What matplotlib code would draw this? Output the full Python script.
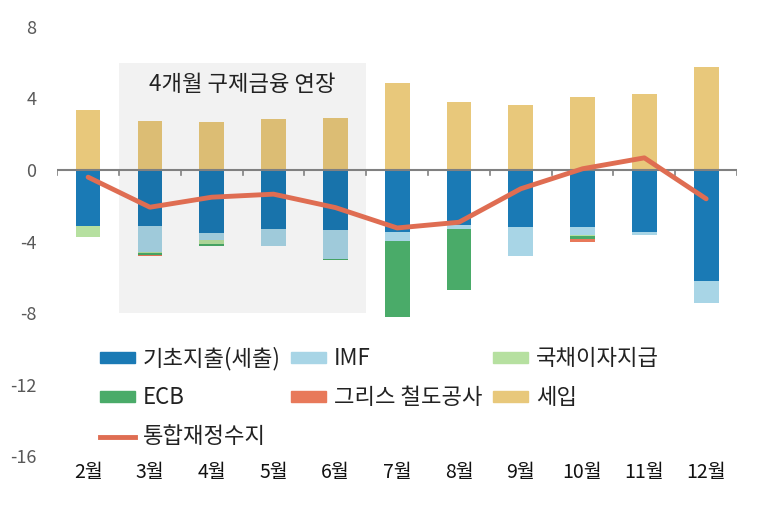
import numpy as np
import matplotlib.pyplot as plt
from matplotlib.patches import Rectangle, Patch
from matplotlib.lines import Line2D

plt.rcParams['font.family'] = ['Noto Sans CJK KR', 'DejaVu Sans']
plt.rcParams['axes.unicode_minus'] = False

months = ['2월', '3월', '4월', '5월', '6월', '7월', '8월', '9월', '10월', '11월', '12월']

# 세입 (positive)
revenue = [3.33, 2.73, 2.69, 2.84, 2.90, 4.88, 3.81, 3.65, 4.06, 4.26, 5.75]
# negative components, stacked downward
primary = [-3.14, -3.14, -3.53, -3.29, -3.38, -3.48, -3.10, -3.20, -3.20, -3.44, -6.22]
imf = [0.00, -1.46, -0.37, -0.95, -1.59, -0.50, -0.19, -1.58, -0.45, -0.17, -1.21]
interest = [-0.58, -0.06, -0.23, 0.00, 0.00, 0.00, 0.00, 0.00, -0.04, 0.00, 0.00]
ecb = [0.00, -0.08, -0.11, 0.00, -0.07, -4.22, -3.41, 0.00, -0.15, 0.00, 0.00]
rail = [0.00, -0.09, 0.00, 0.00, 0.00, 0.00, 0.00, 0.00, -0.16, 0.00, 0.00]
# 통합재정수지
balance = [-0.40, -2.08, -1.52, -1.35, -2.10, -3.24, -2.92, -1.05, 0.07, 0.68, -1.61]

c_primary = '#1a7ab5'
c_imf = '#a8d5e6'
c_interest = '#b6e0a0'
c_ecb = '#4aab69'
c_rail = '#e8795a'
c_rev = '#e8c87b'
c_line = '#df6d52'

fig = plt.figure(figsize=(7.63, 5.08), dpi=100)
ax = fig.add_axes([0.075, 0.102, 0.891, 0.845])

x = np.arange(len(months))
w = 0.4

ax.bar(x, revenue, w, color=c_rev, zorder=2)
bottom = np.zeros(len(months))
for vals, col in [(primary, c_primary), (imf, c_imf), (interest, c_interest),
                  (ecb, c_ecb), (rail, c_rail)]:
    v = np.array(vals)
    ax.bar(x, v, w, bottom=bottom, color=col, zorder=2)
    bottom = bottom + v

# shaded period
ax.add_patch(Rectangle((0.5, -8), 4, 14, facecolor='#000000', alpha=0.05,
                       edgecolor='none', zorder=3))
ax.text(2.5, 4.8, '4개월 구제금융 연장', ha='center', va='center', fontsize=16,
        color='#222222', zorder=5)

# zero line with ticks at category boundaries
ax.axhline(0, color='#808080', lw=1.5, zorder=4)
for b in np.arange(-0.5, len(months), 1):
    ax.plot([b, b], [0, -0.28], color='#808080', lw=1.2, zorder=4)

ax.plot(x, balance, color=c_line, lw=3.5, solid_joinstyle='round',
        solid_capstyle='round', zorder=6)

ax.set_xlim(-0.5, 10.5)
ax.set_ylim(-16, 8)
ax.set_yticks([8, 4, 0, -4, -8, -12, -16])
ax.set_xticks(x)
ax.set_xticklabels(months, fontsize=14, color='#111111')
ax.tick_params(axis='y', labelsize=13, labelcolor='#595959', length=0, pad=15)
ax.tick_params(axis='x', length=0, pad=4)
for s in ax.spines.values():
    s.set_visible(False)

handles = [
    Patch(color=c_primary, label='기초지출(세출)'),
    Patch(color=c_ecb, label='ECB'),
    Line2D([], [], color=c_line, lw=3.5, label='통합재정수지'),
    Patch(color=c_imf, label='IMF'),
    Patch(color=c_rail, label='그리스 철도공사'),
    Patch(color=c_interest, label='국채이자지급'),
    Patch(color=c_rev, label='세입'),
]
leg = ax.legend(handles=handles, ncol=3, loc='upper left',
                bbox_to_anchor=(0.063, 0.255), frameon=False, fontsize=16,
                handlelength=1.58, handleheight=0.36, handletextpad=0.36,
                columnspacing=0.45, labelspacing=0.72, borderaxespad=0,
                borderpad=0)
for t in leg.get_texts():
    t.set_color('#222222')

fig.savefig('out.png', dpi=100)
